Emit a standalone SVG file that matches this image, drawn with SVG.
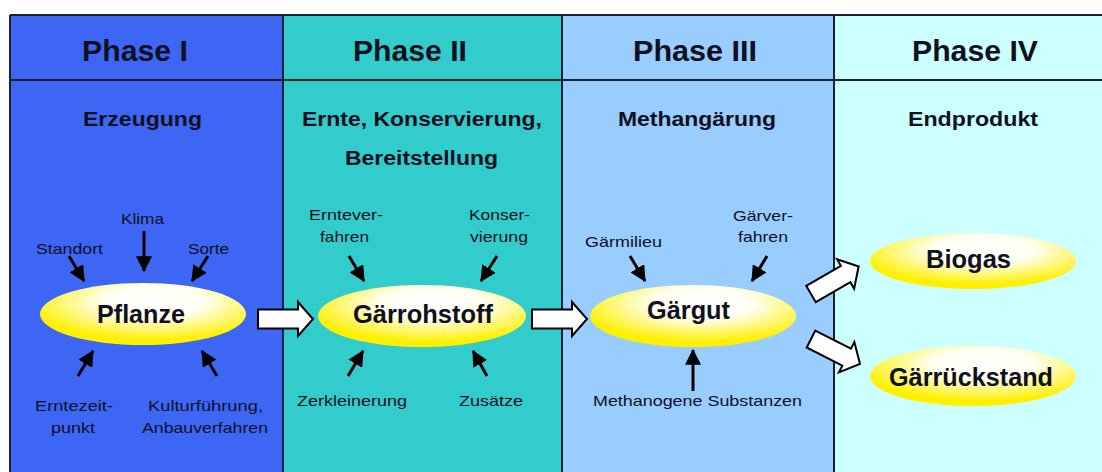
<svg xmlns="http://www.w3.org/2000/svg" width="1102" height="472" viewBox="0 0 1102 472">
<style>
text{font-family:"Liberation Sans",Arial,sans-serif;fill:#10101e;text-anchor:middle}
.hd{font-size:29px;font-weight:bold}
.sub{font-size:20px;font-weight:bold}
.lbl{font-size:15px}
.node{font-size:25px;font-weight:bold}
.grid{stroke:#1b2030;stroke-width:2;fill:none}
.sm{stroke:#000;stroke-width:3;fill:none;marker-end:url(#ah)}
.big{fill:#ffffff;stroke:#000;stroke-width:2;stroke-linejoin:miter}
</style>
<defs>
<radialGradient id="yg" cx="0.55" cy="0.3" r="0.62">
<stop offset="0" stop-color="#ffffff"/>
<stop offset="0.4" stop-color="#fffff2"/>
<stop offset="1" stop-color="#fff000"/>
</radialGradient>
<marker id="ah" viewBox="0 0 14 14" refX="13" refY="7" markerWidth="16" markerHeight="16" markerUnits="userSpaceOnUse" orient="auto">
<path d="M0,0 L14,7 L0,14 Z" fill="#000"/>
</marker>
<path id="bigArrow" d="M0,-9.5 L40,-9.5 L40,-17 L55,0 L40,17 L40,9.5 L0,9.5 Z"/>
</defs>

<g id="columns">
<rect x="10" y="15" width="273" height="460" fill="#3d66f5"/>
<rect x="283" y="15" width="279" height="460" fill="#33cccc"/>
<rect x="562" y="15" width="272" height="460" fill="#99ccff"/>
<rect x="834" y="15" width="270" height="460" fill="#ccffff"/>
<path class="grid" d="M10,15 H1104 M10,80 H1104 M10,15 V475 M283,15 V475 M562,15 V475 M834,15 V475"/>
</g>

<g id="phase1-header">
<text class="hd" x="135" y="61" textLength="106" lengthAdjust="spacingAndGlyphs">Phase I</text>
<text class="sub" x="142.5" y="126" textLength="119" lengthAdjust="spacingAndGlyphs">Erzeugung</text>
</g>
<g id="phase2-header">
<text class="hd" x="410" y="61" textLength="114" lengthAdjust="spacingAndGlyphs">Phase II</text>
<text class="sub" x="422" y="126" textLength="240" lengthAdjust="spacingAndGlyphs">Ernte, Konservierung,</text>
<text class="sub" x="421.5" y="165" textLength="153" lengthAdjust="spacingAndGlyphs">Bereitstellung</text>
</g>
<g id="phase3-header">
<text class="hd" x="695" y="61" textLength="124" lengthAdjust="spacingAndGlyphs">Phase III</text>
<text class="sub" x="697" y="126" textLength="158" lengthAdjust="spacingAndGlyphs">Methangärung</text>
</g>
<g id="phase4-header">
<text class="hd" x="975" y="61" textLength="126" lengthAdjust="spacingAndGlyphs">Phase IV</text>
<text class="sub" x="973" y="126" textLength="130" lengthAdjust="spacingAndGlyphs">Endprodukt</text>
</g>

<g id="node-pflanze">
<ellipse cx="143" cy="314" rx="103" ry="31" fill="url(#yg)"/>
<text class="node" x="141" y="323" textLength="88" lengthAdjust="spacingAndGlyphs">Pflanze</text>
</g>
<g id="node-gaerrohstoff">
<ellipse cx="422" cy="316" rx="104" ry="31" fill="url(#yg)"/>
<text class="node" x="423" y="323" textLength="140" lengthAdjust="spacingAndGlyphs">Gärrohstoff</text>
</g>
<g id="node-gaergut">
<ellipse cx="693" cy="316" rx="103" ry="31" fill="url(#yg)"/>
<text class="node" x="688.5" y="319" textLength="83" lengthAdjust="spacingAndGlyphs">Gärgut</text>
</g>
<g id="node-biogas">
<ellipse cx="973" cy="261" rx="103" ry="28" fill="url(#yg)"/>
<text class="node" x="968.5" y="268" textLength="85" lengthAdjust="spacingAndGlyphs">Biogas</text>
</g>
<g id="node-gaerrueckstand">
<ellipse cx="973" cy="376" rx="103" ry="30" fill="url(#yg)"/>
<text class="node" x="971" y="386" textLength="164" lengthAdjust="spacingAndGlyphs">Gärrückstand</text>
</g>

<g id="labels-phase1">
<text class="lbl" x="142.5" y="224" textLength="43" lengthAdjust="spacingAndGlyphs">Klima</text>
<text class="lbl" x="69.5" y="254" textLength="67" lengthAdjust="spacingAndGlyphs">Standort</text>
<text class="lbl" x="208.5" y="254" textLength="41" lengthAdjust="spacingAndGlyphs">Sorte</text>
<text class="lbl" x="74" y="411" textLength="78" lengthAdjust="spacingAndGlyphs">Erntezeit-</text>
<text class="lbl" x="73" y="433" textLength="44" lengthAdjust="spacingAndGlyphs">punkt</text>
<text class="lbl" x="205.5" y="411" textLength="115" lengthAdjust="spacingAndGlyphs">Kulturführung,</text>
<text class="lbl" x="205" y="433" textLength="126" lengthAdjust="spacingAndGlyphs">Anbauverfahren</text>
</g>
<g id="labels-phase2">
<text class="lbl" x="346" y="220" textLength="74" lengthAdjust="spacingAndGlyphs">Erntever-</text>
<text class="lbl" x="344.5" y="242" textLength="49" lengthAdjust="spacingAndGlyphs">fahren</text>
<text class="lbl" x="499.5" y="220" textLength="61" lengthAdjust="spacingAndGlyphs">Konser-</text>
<text class="lbl" x="499" y="242" textLength="58" lengthAdjust="spacingAndGlyphs">vierung</text>
<text class="lbl" x="352" y="406" textLength="110" lengthAdjust="spacingAndGlyphs">Zerkleinerung</text>
<text class="lbl" x="491" y="406" textLength="64" lengthAdjust="spacingAndGlyphs">Zusätze</text>
</g>
<g id="labels-phase3">
<text class="lbl" x="623.5" y="247" textLength="77" lengthAdjust="spacingAndGlyphs">Gärmilieu</text>
<text class="lbl" x="763" y="221" textLength="60" lengthAdjust="spacingAndGlyphs">Gärver-</text>
<text class="lbl" x="763" y="242" textLength="50" lengthAdjust="spacingAndGlyphs">fahren</text>
<text class="lbl" x="697.5" y="406" textLength="209" lengthAdjust="spacingAndGlyphs">Methanogene Substanzen</text>
</g>

<g id="connectors">
<line class="sm" x1="144" y1="231" x2="144" y2="271"/>
<line class="sm" x1="69" y1="256" x2="84" y2="281"/>
<line class="sm" x1="208" y1="256" x2="192" y2="281"/>
<line class="sm" x1="78" y1="376" x2="93" y2="351"/>
<line class="sm" x1="217" y1="376" x2="202" y2="351"/>
<line class="sm" x1="349" y1="256" x2="364" y2="281"/>
<line class="sm" x1="497" y1="256" x2="481" y2="281"/>
<line class="sm" x1="348" y1="376" x2="363" y2="351"/>
<line class="sm" x1="487" y1="376" x2="473" y2="351"/>
<line class="sm" x1="630" y1="256" x2="645" y2="281"/>
<line class="sm" x1="767" y1="256" x2="752" y2="281"/>
<line class="sm" x1="693" y1="391" x2="693" y2="350"/>
<use href="#bigArrow" class="big" transform="translate(258,319)"/>
<use href="#bigArrow" class="big" transform="translate(532,319)"/>
<use href="#bigArrow" class="big" transform="translate(811,294) rotate(-30)"/>
<use href="#bigArrow" class="big" transform="translate(811,339) rotate(27)"/>
</g>
</svg>
